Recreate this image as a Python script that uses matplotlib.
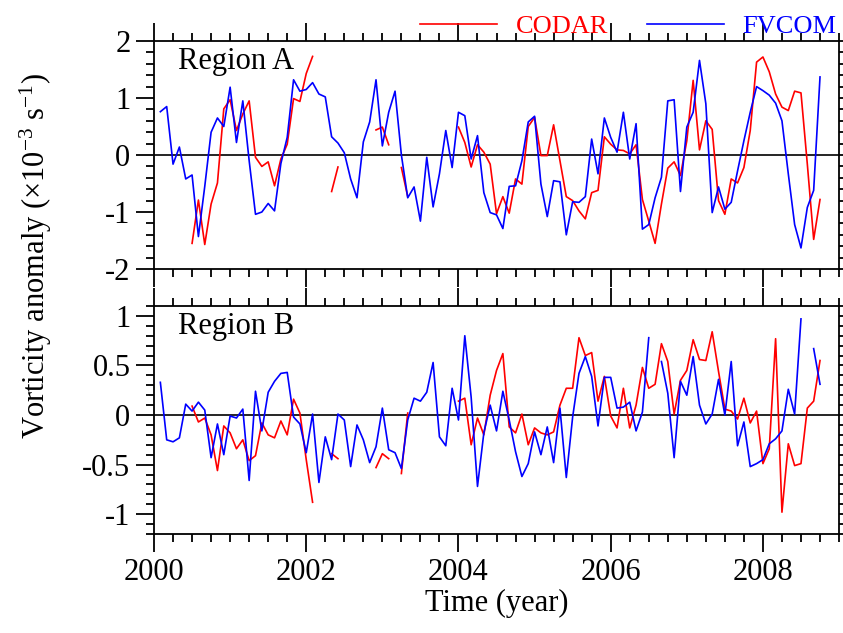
import numpy as np
import matplotlib
matplotlib.use('Agg')
import matplotlib.pyplot as plt
from matplotlib.ticker import MultipleLocator

nan = np.nan

# monthly samples, month index 1..105 -> 2000 + m/12
months = np.arange(1, 106)
time = 2000 + months / 12.0

# Region A
fvcom_a = [0.76, 0.85, -0.16, 0.14, -0.42, -0.35, -1.43, -0.55, 0.40, 0.65,
           0.50, 1.19, 0.22, 0.95, -0.10, -1.04, -1.00, -0.85, -0.98, -0.15,
           0.31, 1.32, 1.12, 1.15, 1.27, 1.07, 1.02, 0.32, 0.21, 0.04,
           -0.42, -0.75, 0.23, 0.58, 1.32, 0.16, 0.75, 1.12, 0.00, -0.75,
           -0.56, -1.16, -0.04, -0.91, -0.33, 0.43, -0.22, 0.75, 0.69, -0.07,
           0.34, -0.66, -1.01, -1.05, -1.29, -0.55, -0.54, -0.10, 0.58, 0.68,
           -0.51, -1.08, -0.45, -0.47, -1.40, -0.82, -0.83, -0.73, 0.28, -0.33,
           0.65, 0.31, 0.05, 0.75, -0.07, 0.55, -1.30, -1.22, -0.75, -0.39,
           0.95, 0.97, -0.64, 0.49, 0.75, 1.66, 0.90, -1.01, -0.56, -0.95,
           -0.83, -0.28, 0.25, 0.75, 1.20, 1.13, 1.05, 0.91, 0.60, -0.33,
           -1.22, -1.63, -0.92, -0.62, 1.37]
codar_a = [nan, nan, nan, nan, nan, -1.55, -0.79, -1.57, -0.86, -0.49,
           0.81, 0.97, 0.43, 0.72, 0.95, -0.04, -0.20, -0.12, -0.54, -0.07,
           0.19, 0.99, 0.94, 1.43, 1.73, nan, nan, -0.64, -0.21, nan,
           nan, nan, nan, nan, 0.44, 0.49, 0.18, nan, -0.22, -0.73,
           nan, nan, nan, nan, nan, nan, nan, 0.49, 0.22, -0.21,
           0.18, 0.05, -0.16, -1.03, -0.73, -1.02, -0.42, -0.51, 0.50, 0.66,
           -0.01, -0.01, 0.53, -0.10, -0.73, -0.80, -0.98, -1.12, -0.66, -0.62,
           0.32, 0.19, 0.09, 0.08, 0.02, 0.18, -0.78, -1.16, -1.55, -0.86,
           -0.23, -0.12, -0.36, 0.25, 1.31, 0.09, 0.60, 0.45, -0.80, -1.04,
           -0.42, -0.49, -0.22, 0.43, 1.63, 1.72, 1.46, 1.07, 0.84, 0.78,
           1.12, 1.09, -0.16, -1.48, -0.78]

# Region B
fvcom_b = [0.33, -0.25, -0.27, -0.23, 0.11, 0.04, 0.13, 0.05, -0.43, -0.09,
           -0.40, -0.01, -0.03, 0.06, -0.66, 0.24, -0.16, 0.23, 0.34, 0.42,
           0.43, -0.02, -0.09, -0.38, 0.01, -0.68, -0.22, -0.45, 0.01, -0.05,
           -0.52, -0.10, -0.25, -0.48, -0.32, 0.07, -0.35, -0.38, -0.54, -0.05,
           0.17, 0.14, 0.23, 0.53, -0.22, -0.31, 0.27, -0.05, 0.80, 0.18,
           -0.72, -0.18, 0.10, -0.16, 0.24, -0.05, -0.37, -0.62, -0.49, -0.17,
           -0.40, -0.12, -0.48, 0.07, -0.63, -0.02, 0.42, 0.59, 0.39, -0.11,
           0.38, 0.38, 0.07, 0.08, 0.13, -0.16, 0.03, 0.78, nan, 0.54,
           0.22, -0.43, 0.34, 0.20, 0.59, 0.10, -0.09, 0.01, 0.36, 0.00,
           0.54, -0.31, -0.07, -0.52, -0.49, -0.45, -0.29, -0.24, -0.16, 0.26,
           0.01, 0.97, nan, 0.67, 0.31]
codar_b = [nan, nan, nan, nan, nan, 0.09, -0.07, -0.03, -0.20, -0.56,
           -0.11, -0.18, -0.34, -0.25, -0.46, -0.41, -0.08, -0.20, -0.23, -0.06,
           -0.20, 0.16, 0.02, -0.45, -0.88, nan, nan, -0.39, -0.44, nan,
           nan, nan, nan, nan, -0.53, -0.39, -0.44, nan, -0.59, 0.02,
           nan, nan, nan, nan, nan, nan, nan, 0.14, 0.17, -0.30,
           -0.03, -0.20, 0.20, 0.45, 0.62, -0.12, -0.18, 0.01, -0.30, -0.13,
           -0.18, -0.20, -0.17, 0.10, 0.27, 0.27, 0.78, 0.60, 0.63, 0.14,
           0.39, -0.01, -0.13, 0.27, -0.13, 0.10, 0.48, 0.27, 0.31, 0.72,
           0.54, 0.01, 0.35, 0.45, 0.76, 0.56, 0.55, 0.84, 0.44, 0.06,
           0.04, -0.04, 0.17, -0.08, 0.04, -0.49, -0.34, 0.77, -0.98, -0.29,
           -0.51, -0.49, 0.07, 0.14, 0.55]

plt.rcParams['font.family'] = ['Liberation Serif', 'DejaVu Serif']
plt.rcParams['mathtext.fontset'] = 'custom'
plt.rcParams['mathtext.rm'] = 'Liberation Serif'
plt.rcParams['mathtext.it'] = 'Liberation Serif:italic'
plt.rcParams['axes.unicode_minus'] = False

fig = plt.figure(figsize=(8.43, 6.33), dpi=100)
ax = fig.add_axes([0.1827, 0.5750, 0.8126, 0.3602])
ax1 = fig.add_axes([0.1827, 0.1564, 0.8126, 0.3602])

for a, cod, fv, ylim, major, minor, name in [
        (ax, codar_a, fvcom_a, (-2, 2), 1, 0.2, 'Region A'),
        (ax1, codar_b, fvcom_b, (-1.2, 1.1), 0.5, 0.1, 'Region B')]:
    a.axhline(0, color='black', lw=1.2, zorder=1)
    a.plot(time, cod, color='#ff0000', lw=1.2, label='CODAR')
    a.plot(time, fv, color='#0000ff', lw=1.2, label='FVCOM')
    a.set_xlim(2000, 2009)
    a.set_ylim(*ylim)
    a.xaxis.set_major_locator(MultipleLocator(2))
    a.xaxis.set_minor_locator(MultipleLocator(0.25))
    a.yaxis.set_major_locator(MultipleLocator(major))
    a.yaxis.set_minor_locator(MultipleLocator(minor))
    a.tick_params(which='both', direction='out', top=True, right=True,
                  width=1.3, labelsize=22)
    a.tick_params(which='major', length=13, pad=4)
    a.tick_params(which='minor', length=6)
    for s in a.spines.values():
        s.set_linewidth(1.3)
    a.text(0.035, 0.975, name, transform=a.transAxes, ha='left', va='top',
           fontsize=22)

ax.set_yticks([-2, -1, 0, 1, 2])
ax.set_yticklabels(['-2', '-1', '0', '1', '2'])
ax.tick_params(axis='x', labelbottom=False)
ax1.set_yticks([-1, -0.5, 0, 0.5, 1])
ax1.set_yticklabels(['-1', '-0.5', '0', '0.5', '1'])
ax1.set_xticks([2000, 2002, 2004, 2006, 2008])
ax1.set_xticklabels(['2000', '2002', '2004', '2006', '2008'])
ax1.set_xlabel('Time (year)', fontsize=22, labelpad=2)

fig.text(0.042, 0.595, 'Vorticity anomaly (\u00d710$^{-3}$ s$^{-1}$)',
         rotation=90, ha='center', va='center', fontsize=22)

leg = ax.legend(loc='lower right', bbox_to_anchor=(1.0, 1.0), ncol=2,
                frameon=False, fontsize=19, handlelength=2.9,
                handletextpad=0.7, columnspacing=1.5, borderaxespad=0.0,
                borderpad=0.1, labelcolor='linecolor')

fig.savefig('out.png', dpi=100)
